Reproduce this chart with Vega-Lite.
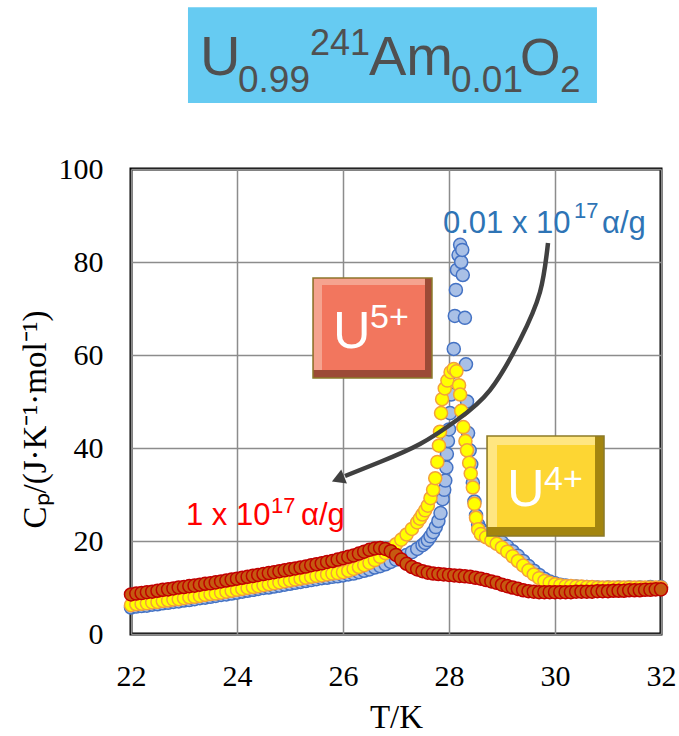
{
  "$schema": "https://vega.github.io/schema/vega-lite/v6.json",
  "width": 530,
  "height": 465,
  "autosize": {"type": "none"},
  "padding": {"left": 131, "top": 169, "right": 18, "bottom": 102},
  "background": "white",
  "config": {
    "view": {"stroke": "black", "strokeWidth": 3},
    "axis": {
      "labelFont": "Liberation Serif", "labelFontSize": 30, "labelColor": "black",
      "titleFont": "Liberation Serif", "titleFontSize": 33, "titleFontWeight": "normal", "titleColor": "black",
      "grid": true, "gridColor": "#8c8c8c", "gridWidth": 1.5,
      "domain": false, "ticks": false, "labelFlush": false
    },
    "text": {"font": "Liberation Sans", "align": "left", "baseline": "alphabetic"}
  },
  "datasets": {
    "cp": [
      {"s":"b","T":22.0,"C":5.7},{"s":"b","T":22.1,"C":5.9},{"s":"b","T":22.2,"C":6.0},{"s":"b","T":22.3,"C":6.1},{"s":"b","T":22.4,"C":6.3},{"s":"b","T":22.5,"C":6.4},{"s":"b","T":22.6,"C":6.6},{"s":"b","T":22.7,"C":6.7},{"s":"b","T":22.8,"C":6.9},{"s":"b","T":22.9,"C":7.0},
      {"s":"b","T":23.0,"C":7.2},{"s":"b","T":23.1,"C":7.3},{"s":"b","T":23.2,"C":7.5},{"s":"b","T":23.3,"C":7.7},{"s":"b","T":23.4,"C":7.8},{"s":"b","T":23.5,"C":8.0},{"s":"b","T":23.6,"C":8.2},{"s":"b","T":23.7,"C":8.4},{"s":"b","T":23.8,"C":8.5},{"s":"b","T":23.9,"C":8.7},
      {"s":"b","T":24.0,"C":8.9},{"s":"b","T":24.1,"C":9.1},{"s":"b","T":24.2,"C":9.3},{"s":"b","T":24.3,"C":9.5},{"s":"b","T":24.4,"C":9.7},{"s":"b","T":24.5,"C":9.9},{"s":"b","T":24.6,"C":10.0},{"s":"b","T":24.7,"C":10.2},{"s":"b","T":24.8,"C":10.4},{"s":"b","T":24.9,"C":10.6},
      {"s":"b","T":25.0,"C":10.8},{"s":"b","T":25.1,"C":11.0},{"s":"b","T":25.2,"C":11.2},{"s":"b","T":25.3,"C":11.4},{"s":"b","T":25.4,"C":11.6},{"s":"b","T":25.5,"C":11.8},{"s":"b","T":25.6,"C":12.0},{"s":"b","T":25.7,"C":12.1},{"s":"b","T":25.8,"C":12.3},{"s":"b","T":25.9,"C":12.4},
      {"s":"b","T":26.0,"C":12.6},{"s":"b","T":26.1,"C":12.8},{"s":"b","T":26.2,"C":13.0},{"s":"b","T":26.3,"C":13.3},{"s":"b","T":26.4,"C":13.6},{"s":"b","T":26.5,"C":13.9},{"s":"b","T":26.6,"C":14.3},{"s":"b","T":26.7,"C":14.6},{"s":"b","T":26.8,"C":15.0},{"s":"b","T":26.9,"C":15.5},
      {"s":"b","T":27.0,"C":16.0},{"s":"b","T":27.1,"C":16.5},{"s":"b","T":27.2,"C":17.0},{"s":"b","T":27.3,"C":17.6},{"s":"b","T":27.4,"C":18.3},{"s":"b","T":27.5,"C":19.1},{"s":"b","T":27.55,"C":19.6},{"s":"b","T":27.6,"C":20.2},{"s":"b","T":27.65,"C":21.0},{"s":"b","T":27.7,"C":21.9},
      {"s":"b","T":27.75,"C":23.0},{"s":"b","T":27.8,"C":24.3},{"s":"b","T":27.84,"C":26.0},{"s":"b","T":27.88,"C":29.0},{"s":"b","T":27.91,"C":31.0},{"s":"b","T":27.93,"C":33.0},{"s":"b","T":27.95,"C":35.8},{"s":"b","T":27.96,"C":38.7},{"s":"b","T":27.98,"C":41.5},{"s":"b","T":28.0,"C":44.0},
      {"s":"b","T":28.02,"C":47.5},{"s":"b","T":28.04,"C":51.5},{"s":"b","T":28.06,"C":56.3},{"s":"b","T":28.09,"C":61.3},{"s":"b","T":28.11,"C":68.4},{"s":"b","T":28.13,"C":74.0},{"s":"b","T":28.15,"C":78.3},{"s":"b","T":28.18,"C":81.5},{"s":"b","T":28.21,"C":83.7},{"s":"b","T":28.23,"C":80.0},
      {"s":"b","T":28.25,"C":82.6},{"s":"b","T":28.26,"C":77.2},{"s":"b","T":28.3,"C":68.0},{"s":"b","T":28.32,"C":58.0},{"s":"b","T":28.34,"C":50.0},{"s":"b","T":28.36,"C":43.2},{"s":"b","T":28.39,"C":39.5},{"s":"b","T":28.42,"C":36.5},{"s":"b","T":28.45,"C":32.5},{"s":"b","T":28.48,"C":28.5},
      {"s":"b","T":28.51,"C":25.5},{"s":"b","T":28.55,"C":23.5},{"s":"b","T":28.6,"C":22.5},{"s":"b","T":28.7,"C":21.8},{"s":"b","T":28.8,"C":21.2},{"s":"b","T":28.9,"C":20.5},{"s":"b","T":29.0,"C":19.7},{"s":"b","T":29.1,"C":18.8},{"s":"b","T":29.2,"C":17.8},{"s":"b","T":29.3,"C":16.8},
      {"s":"b","T":29.4,"C":15.7},{"s":"b","T":29.5,"C":14.6},{"s":"b","T":29.6,"C":13.6},{"s":"b","T":29.7,"C":12.7},{"s":"b","T":29.8,"C":11.9},{"s":"b","T":29.9,"C":11.3},{"s":"b","T":30.0,"C":10.9},{"s":"b","T":30.1,"C":10.6},{"s":"b","T":30.2,"C":10.4},{"s":"b","T":30.4,"C":10.2},
      {"s":"b","T":30.6,"C":10.1},{"s":"b","T":30.8,"C":10.0},{"s":"b","T":31.0,"C":10.0},{"s":"b","T":31.2,"C":10.0},{"s":"b","T":31.4,"C":10.0},{"s":"b","T":31.6,"C":10.0},{"s":"b","T":31.8,"C":10.1},{"s":"b","T":32.0,"C":10.1},

      {"s":"y","T":22.0,"C":6.2},{"s":"y","T":22.1,"C":6.4},{"s":"y","T":22.2,"C":6.5},{"s":"y","T":22.3,"C":6.6},{"s":"y","T":22.4,"C":6.8},{"s":"y","T":22.5,"C":6.9},{"s":"y","T":22.6,"C":7.1},{"s":"y","T":22.7,"C":7.2},{"s":"y","T":22.8,"C":7.4},{"s":"y","T":22.9,"C":7.5},
      {"s":"y","T":23.0,"C":7.7},{"s":"y","T":23.1,"C":7.9},{"s":"y","T":23.2,"C":8.0},{"s":"y","T":23.3,"C":8.2},{"s":"y","T":23.4,"C":8.4},{"s":"y","T":23.5,"C":8.6},{"s":"y","T":23.6,"C":8.7},{"s":"y","T":23.7,"C":8.9},{"s":"y","T":23.8,"C":9.1},{"s":"y","T":23.9,"C":9.3},
      {"s":"y","T":24.0,"C":9.5},{"s":"y","T":24.1,"C":9.7},{"s":"y","T":24.2,"C":9.9},{"s":"y","T":24.3,"C":10.1},{"s":"y","T":24.4,"C":10.3},{"s":"y","T":24.5,"C":10.5},{"s":"y","T":24.6,"C":10.7},{"s":"y","T":24.7,"C":10.9},{"s":"y","T":24.8,"C":11.1},{"s":"y","T":24.9,"C":11.3},
      {"s":"y","T":25.0,"C":11.5},{"s":"y","T":25.1,"C":11.7},{"s":"y","T":25.2,"C":11.9},{"s":"y","T":25.3,"C":12.1},{"s":"y","T":25.4,"C":12.3},{"s":"y","T":25.5,"C":12.5},{"s":"y","T":25.6,"C":12.6},{"s":"y","T":25.7,"C":12.8},{"s":"y","T":25.8,"C":13.0},{"s":"y","T":25.9,"C":13.1},
      {"s":"y","T":26.0,"C":13.3},{"s":"y","T":26.1,"C":13.6},{"s":"y","T":26.2,"C":14.0},{"s":"y","T":26.3,"C":14.4},{"s":"y","T":26.4,"C":14.8},{"s":"y","T":26.5,"C":15.3},{"s":"y","T":26.6,"C":15.9},{"s":"y","T":26.7,"C":16.6},{"s":"y","T":26.8,"C":17.4},{"s":"y","T":26.9,"C":18.3},
      {"s":"y","T":27.0,"C":19.3},{"s":"y","T":27.1,"C":20.3},{"s":"y","T":27.2,"C":21.4},{"s":"y","T":27.3,"C":22.6},{"s":"y","T":27.4,"C":24.0},{"s":"y","T":27.45,"C":24.8},{"s":"y","T":27.5,"C":25.7},{"s":"y","T":27.55,"C":26.6},{"s":"y","T":27.6,"C":27.6},{"s":"y","T":27.65,"C":29.2},
      {"s":"y","T":27.7,"C":31.0},{"s":"y","T":27.74,"C":33.5},{"s":"y","T":27.78,"C":37.0},{"s":"y","T":27.81,"C":40.5},{"s":"y","T":27.83,"C":43.5},{"s":"y","T":27.85,"C":47.5},{"s":"y","T":27.87,"C":50.5},{"s":"y","T":27.92,"C":52.8},{"s":"y","T":27.97,"C":54.5},{"s":"y","T":28.03,"C":56.3},
      {"s":"y","T":28.09,"C":57.0},{"s":"y","T":28.14,"C":56.5},{"s":"y","T":28.19,"C":53.5},{"s":"y","T":28.21,"C":51.5},{"s":"y","T":28.23,"C":48.0},{"s":"y","T":28.27,"C":44.5},{"s":"y","T":28.31,"C":41.5},{"s":"y","T":28.34,"C":39.5},{"s":"y","T":28.38,"C":36.8},{"s":"y","T":28.41,"C":34.5},
      {"s":"y","T":28.45,"C":31.5},{"s":"y","T":28.48,"C":28.0},{"s":"y","T":28.51,"C":25.0},{"s":"y","T":28.55,"C":22.5},{"s":"y","T":28.6,"C":21.5},{"s":"y","T":28.7,"C":20.8},{"s":"y","T":28.8,"C":20.1},{"s":"y","T":28.9,"C":19.4},{"s":"y","T":29.0,"C":18.6},{"s":"y","T":29.1,"C":17.7},
      {"s":"y","T":29.2,"C":16.7},{"s":"y","T":29.3,"C":15.7},{"s":"y","T":29.4,"C":14.7},{"s":"y","T":29.5,"C":13.7},{"s":"y","T":29.6,"C":12.8},{"s":"y","T":29.7,"C":12.0},{"s":"y","T":29.8,"C":11.4},{"s":"y","T":29.9,"C":11.0},{"s":"y","T":30.0,"C":10.7},{"s":"y","T":30.1,"C":10.5},
      {"s":"y","T":30.2,"C":10.3},{"s":"y","T":30.3,"C":10.3},{"s":"y","T":30.4,"C":10.2},{"s":"y","T":30.5,"C":10.2},{"s":"y","T":30.6,"C":10.1},{"s":"y","T":30.7,"C":10.1},{"s":"y","T":30.8,"C":10.0},{"s":"y","T":30.9,"C":10.0},{"s":"y","T":31.0,"C":10.0},{"s":"y","T":31.1,"C":10.0},
      {"s":"y","T":31.2,"C":10.0},{"s":"y","T":31.3,"C":10.0},{"s":"y","T":31.4,"C":10.0},{"s":"y","T":31.5,"C":10.0},{"s":"y","T":31.6,"C":10.0},{"s":"y","T":31.7,"C":10.0},{"s":"y","T":31.8,"C":10.0},{"s":"y","T":31.9,"C":10.0},{"s":"y","T":32.0,"C":10.0},

      {"s":"r","T":22.0,"C":8.5},{"s":"r","T":22.1,"C":8.7},{"s":"r","T":22.2,"C":8.8},{"s":"r","T":22.3,"C":9.0},{"s":"r","T":22.4,"C":9.1},{"s":"r","T":22.5,"C":9.3},{"s":"r","T":22.6,"C":9.5},{"s":"r","T":22.7,"C":9.6},{"s":"r","T":22.8,"C":9.8},{"s":"r","T":22.9,"C":10.0},
      {"s":"r","T":23.0,"C":10.1},{"s":"r","T":23.1,"C":10.3},{"s":"r","T":23.2,"C":10.4},{"s":"r","T":23.3,"C":10.6},{"s":"r","T":23.4,"C":10.8},{"s":"r","T":23.5,"C":10.9},{"s":"r","T":23.6,"C":11.1},{"s":"r","T":23.7,"C":11.3},{"s":"r","T":23.8,"C":11.5},{"s":"r","T":23.9,"C":11.7},
      {"s":"r","T":24.0,"C":11.9},{"s":"r","T":24.1,"C":12.1},{"s":"r","T":24.2,"C":12.3},{"s":"r","T":24.3,"C":12.5},{"s":"r","T":24.4,"C":12.7},{"s":"r","T":24.5,"C":12.9},{"s":"r","T":24.6,"C":13.1},{"s":"r","T":24.7,"C":13.3},{"s":"r","T":24.8,"C":13.5},{"s":"r","T":24.9,"C":13.7},
      {"s":"r","T":25.0,"C":13.9},{"s":"r","T":25.1,"C":14.1},{"s":"r","T":25.2,"C":14.3},{"s":"r","T":25.3,"C":14.5},{"s":"r","T":25.4,"C":14.8},{"s":"r","T":25.5,"C":15.0},{"s":"r","T":25.6,"C":15.2},{"s":"r","T":25.7,"C":15.5},{"s":"r","T":25.8,"C":15.7},{"s":"r","T":25.9,"C":16.0},
      {"s":"r","T":26.0,"C":16.3},{"s":"r","T":26.1,"C":16.6},{"s":"r","T":26.2,"C":16.9},{"s":"r","T":26.3,"C":17.3},{"s":"r","T":26.4,"C":17.7},{"s":"r","T":26.5,"C":18.1},{"s":"r","T":26.6,"C":18.4},{"s":"r","T":26.7,"C":18.5},{"s":"r","T":26.8,"C":18.3},{"s":"r","T":26.9,"C":17.8},
      {"s":"r","T":27.0,"C":17.0},{"s":"r","T":27.1,"C":16.0},{"s":"r","T":27.2,"C":15.1},{"s":"r","T":27.3,"C":14.4},{"s":"r","T":27.4,"C":13.9},{"s":"r","T":27.5,"C":13.5},{"s":"r","T":27.6,"C":13.2},{"s":"r","T":27.7,"C":13.0},{"s":"r","T":27.8,"C":12.9},{"s":"r","T":27.9,"C":12.8},
      {"s":"r","T":28.0,"C":12.7},{"s":"r","T":28.1,"C":12.6},{"s":"r","T":28.2,"C":12.5},{"s":"r","T":28.3,"C":12.4},{"s":"r","T":28.4,"C":12.3},{"s":"r","T":28.5,"C":12.1},{"s":"r","T":28.6,"C":11.9},{"s":"r","T":28.7,"C":11.6},{"s":"r","T":28.8,"C":11.3},{"s":"r","T":28.9,"C":11.0},
      {"s":"r","T":29.0,"C":10.6},{"s":"r","T":29.1,"C":10.3},{"s":"r","T":29.2,"C":10.0},{"s":"r","T":29.3,"C":9.7},{"s":"r","T":29.4,"C":9.4},{"s":"r","T":29.5,"C":9.2},{"s":"r","T":29.6,"C":9.1},{"s":"r","T":29.7,"C":9.0},{"s":"r","T":29.8,"C":9.0},{"s":"r","T":29.9,"C":9.0},
      {"s":"r","T":30.0,"C":9.0},{"s":"r","T":30.1,"C":9.0},{"s":"r","T":30.2,"C":9.0},{"s":"r","T":30.3,"C":9.0},{"s":"r","T":30.4,"C":9.1},{"s":"r","T":30.5,"C":9.1},{"s":"r","T":30.6,"C":9.1},{"s":"r","T":30.7,"C":9.1},{"s":"r","T":30.8,"C":9.2},{"s":"r","T":30.9,"C":9.2},
      {"s":"r","T":31.0,"C":9.2},{"s":"r","T":31.1,"C":9.3},{"s":"r","T":31.2,"C":9.3},{"s":"r","T":31.3,"C":9.3},{"s":"r","T":31.4,"C":9.4},{"s":"r","T":31.5,"C":9.4},{"s":"r","T":31.6,"C":9.4},{"s":"r","T":31.7,"C":9.5},{"s":"r","T":31.8,"C":9.5},{"s":"r","T":31.9,"C":9.6},{"s":"r","T":32.0,"C":9.6}
    ]
  },
  "layer": [
    {
      "data": {"values": [{"T1": 23.075, "T2": 30.792, "C1": 114.2, "C2": 134.8}]},
      "mark": {"type": "rect", "fill": "#66CBF2"},
      "encoding": {
        "x": {"field": "T1", "type": "quantitative", "scale": {"domain": [22, 32], "nice": false},
              "axis": {"values": [22, 24, 26, 28, 30, 32], "title": "T/K", "labelPadding": 27, "titleBaseline": "alphabetic", "titleY": 93}},
        "x2": {"field": "T2"},
        "y": {"field": "C1", "type": "quantitative", "scale": {"domain": [0, 100], "nice": false},
              "axis": {"values": [0, 20, 40, 60, 80, 100], "title": "C\u209a/(J·K\u207b\u00b9·mol\u207b\u00b9)", "labelPadding": 28, "titleBaseline": "alphabetic", "titleX": -86, "titleY": 250}},
        "y2": {"field": "C2"}
      }
    },
    {
      "data": {"name": "cp"},
      "mark": {"type": "point", "filled": true, "size": 170, "strokeWidth": 1.5, "opacity": 1},
      "encoding": {
        "x": {"field": "T", "type": "quantitative"},
        "y": {"field": "C", "type": "quantitative"},
        "fill": {"field": "s", "type": "nominal", "legend": null,
                 "scale": {"domain": ["b", "y", "r"], "range": ["#A9C0E6", "#FFFF00", "#C55A11"]}},
        "stroke": {"field": "s", "type": "nominal", "legend": null,
                   "scale": {"domain": ["b", "y", "r"], "range": ["#4472C4", "#F4A13A", "#C00000"]}}
      }
    },
    {
      "data": {"values": [
        {"T": 29.868, "C": 84.09}, {"T": 29.717, "C": 73.55}, {"T": 29.340, "C": 63.23}, {"T": 28.774, "C": 52.47},
        {"T": 28.151, "C": 46.02}, {"T": 27.453, "C": 40.86}, {"T": 26.698, "C": 36.99}, {"T": 26.038, "C": 33.98}
      ]},
      "mark": {"type": "line", "color": "#404040", "strokeWidth": 4.5, "interpolate": "natural"},
      "encoding": {
        "x": {"field": "T", "type": "quantitative"},
        "y": {"field": "C", "type": "quantitative"}
      }
    },
    {
      "data": {"values": [{"T": 25.906, "C": 33.33}]},
      "mark": {"type": "point", "shape": "triangle-left", "filled": true, "size": 230, "angle": -22, "color": "#404040", "opacity": 1},
      "encoding": {
        "x": {"field": "T", "type": "quantitative"},
        "y": {"field": "C", "type": "quantitative"}
      }
    },
    {
      "data": {"values": [{"T1": 25.434, "T2": 27.679, "C1": 55.05, "C2": 76.56}]},
      "mark": {"type": "rect", "fill": "#9C4A36", "stroke": "#8C7A2A", "strokeWidth": 1.5},
      "encoding": {"x": {"field": "T1", "type": "quantitative"}, "x2": {"field": "T2"}, "y": {"field": "C1", "type": "quantitative"}, "y2": {"field": "C2"}}
    },
    {
      "data": {"values": [{"T1": 25.45, "T2": 27.547, "C1": 56.77, "C2": 76.4}]},
      "mark": {"type": "rect", "fill": "#F5A38F"},
      "encoding": {"x": {"field": "T1", "type": "quantitative"}, "x2": {"field": "T2"}, "y": {"field": "C1", "type": "quantitative"}, "y2": {"field": "C2"}}
    },
    {
      "data": {"values": [{"T1": 25.604, "T2": 27.547, "C1": 56.77, "C2": 75.05}]},
      "mark": {"type": "rect", "fill": "#F2765E"},
      "encoding": {"x": {"field": "T1", "type": "quantitative"}, "x2": {"field": "T2"}, "y": {"field": "C1", "type": "quantitative"}, "y2": {"field": "C2"}}
    },
    {
      "data": {"values": [{"T1": 28.717, "T2": 30.925, "C1": 21.08, "C2": 42.58}]},
      "mark": {"type": "rect", "fill": "#A3850F", "stroke": "#8C7A2A", "strokeWidth": 1.5},
      "encoding": {"x": {"field": "T1", "type": "quantitative"}, "x2": {"field": "T2"}, "y": {"field": "C1", "type": "quantitative"}, "y2": {"field": "C2"}}
    },
    {
      "data": {"values": [{"T1": 28.733, "T2": 30.755, "C1": 23.01, "C2": 42.42}]},
      "mark": {"type": "rect", "fill": "#FFE681"},
      "encoding": {"x": {"field": "T1", "type": "quantitative"}, "x2": {"field": "T2"}, "y": {"field": "C1", "type": "quantitative"}, "y2": {"field": "C2"}}
    },
    {
      "data": {"values": [{"T1": 28.906, "T2": 30.755, "C1": 23.01, "C2": 40.65}]},
      "mark": {"type": "rect", "fill": "#FDD633"},
      "encoding": {"x": {"field": "T1", "type": "quantitative"}, "x2": {"field": "T2"}, "y": {"field": "C1", "type": "quantitative"}, "y2": {"field": "C2"}}
    },
    {
      "data": {"values": [{"T": 25.811, "C": 61.51, "t": "U"}, {"T": 29.094, "C": 27.53, "t": "U"}]},
      "mark": {"type": "text", "fontSize": 52, "color": "white"},
      "encoding": {"x": {"field": "T", "type": "quantitative"}, "y": {"field": "C", "type": "quantitative"}, "text": {"field": "t"}}
    },
    {
      "data": {"values": [{"T": 26.509, "C": 65.81, "t": "5+"}, {"T": 29.792, "C": 30.97, "t": "4+"}]},
      "mark": {"type": "text", "fontSize": 34, "color": "white"},
      "encoding": {"x": {"field": "T", "type": "quantitative"}, "y": {"field": "C", "type": "quantitative"}, "text": {"field": "t"}}
    },
    {
      "data": {"values": [{"T": 23.302, "C": 120.2, "t": "U"}, {"T": 26.491, "C": 120.2, "t": "Am"}]},
      "mark": {"type": "text", "fontSize": 56, "color": "#505050"},
      "encoding": {"x": {"field": "T", "type": "quantitative"}, "y": {"field": "C", "type": "quantitative"}, "text": {"field": "t"}}
    },
    {
      "data": {"values": [{"T": 29.340, "C": 120.2, "t": "O"}]},
      "mark": {"type": "text", "fontSize": 52, "color": "#505050"},
      "encoding": {"x": {"field": "T", "type": "quantitative"}, "y": {"field": "C", "type": "quantitative"}, "text": {"field": "t"}}
    },
    {
      "data": {"values": [{"T": 24.019, "C": 116.56, "t": "0.99"}, {"T": 28.038, "C": 116.56, "t": "0.01"}, {"T": 30.094, "C": 116.56, "t": "2"}]},
      "mark": {"type": "text", "fontSize": 37, "color": "#505050"},
      "encoding": {"x": {"field": "T", "type": "quantitative"}, "y": {"field": "C", "type": "quantitative"}, "text": {"field": "t"}}
    },
    {
      "data": {"values": [{"T": 25.377, "C": 124.52, "t": "241"}]},
      "mark": {"type": "text", "fontSize": 36, "color": "#505050"},
      "encoding": {"x": {"field": "T", "type": "quantitative"}, "y": {"field": "C", "type": "quantitative"}, "text": {"field": "t"}}
    },
    {
      "data": {"values": [{"T": 27.887, "C": 86.24, "t": "0.01 x 10"}, {"T": 30.887, "C": 86.24, "t": "α/g"}]},
      "mark": {"type": "text", "fontSize": 31, "color": "#2E74B5"},
      "encoding": {"x": {"field": "T", "type": "quantitative"}, "y": {"field": "C", "type": "quantitative"}, "text": {"field": "t"}}
    },
    {
      "data": {"values": [{"T": 30.358, "C": 89.46, "t": "17"}]},
      "mark": {"type": "text", "fontSize": 22, "color": "#2E74B5"},
      "encoding": {"x": {"field": "T", "type": "quantitative"}, "y": {"field": "C", "type": "quantitative"}, "text": {"field": "t"}}
    },
    {
      "data": {"values": [{"T": 23.038, "C": 23.44, "t": "1 x 10"}, {"T": 25.208, "C": 23.44, "t": "α/g"}]},
      "mark": {"type": "text", "fontSize": 31, "color": "#FF0000"},
      "encoding": {"x": {"field": "T", "type": "quantitative"}, "y": {"field": "C", "type": "quantitative"}, "text": {"field": "t"}}
    },
    {
      "data": {"values": [{"T": 24.642, "C": 26.02, "t": "17"}]},
      "mark": {"type": "text", "fontSize": 22, "color": "#FF0000"},
      "encoding": {"x": {"field": "T", "type": "quantitative"}, "y": {"field": "C", "type": "quantitative"}, "text": {"field": "t"}}
    }
  ]
}
